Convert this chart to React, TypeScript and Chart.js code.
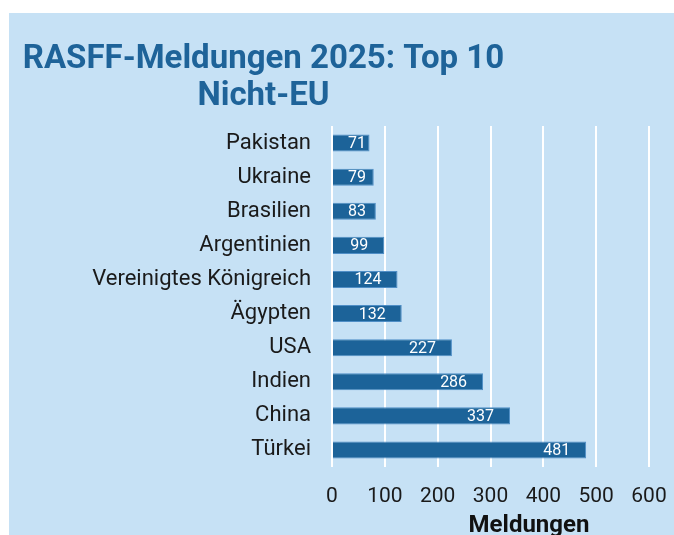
import React, { useEffect, useRef } from "react";
import { Chart, registerables } from "chart.js";

Chart.register(...registerables);

const categories = [
  "Pakistan",
  "Ukraine",
  "Brasilien",
  "Argentinien",
  "Vereinigtes Königreich",
  "Ägypten",
  "USA",
  "Indien",
  "China",
  "Türkei",
];
const values = [71, 79, 83, 99, 124, 132, 227, 286, 337, 481];
const titleLines = ["RASFF-Meldungen 2025: Top 10", "Nicht-EU"];
const xAxisTitle = "Meldungen";
const xMin = 0;
const xMax = 600;
const xStep = 100;

const BG = "#c6e1f5";
const BAR = "#1c6399";
const BAR_BORDER = "#4f8ec6";
const TITLE = "#1e6399";
const TEXT = "#1a1a1a";
const FONT = "Roboto, 'Noto Sans', sans-serif";

const W = 665;
const H = 522;

export default function App() {
  const ref = useRef<HTMLCanvasElement | null>(null);
  useEffect(() => {
    if (!ref.current) return;
    const overlay = {
      id: "overlay",
      afterDatasetsDraw(chart: any) {
        const ctx = chart.ctx;
        const meta = chart.getDatasetMeta(0);
        ctx.save();
        ctx.font = `16px ${FONT}`;
        ctx.fillStyle = "#ffffff";
        ctx.textBaseline = "middle";
        ctx.textAlign = "left";
        meta.data.forEach((bar: any, i: number) => {
          const txt = String(values[i]);
          const w = ctx.measureText(txt).width;
          const base = bar.base;
          let left = bar.x - 16 - w;
          if (left < base + 15) left = base + 15;
          ctx.fillText(txt, left, bar.y + 1);
        });
        ctx.restore();
      },
      afterDraw(chart: any) {
        const ctx = chart.ctx;
        ctx.save();
        ctx.font = `bold 33px ${FONT}`;
        ctx.fillStyle = TITLE;
        ctx.textAlign = "center";
        ctx.textBaseline = "alphabetic";
        ctx.fillText(titleLines[0], 254.5, 54.7);
        ctx.fillText(titleLines[1], 254.5, 92);
        ctx.font = `bold 24px ${FONT}`;
        ctx.fillStyle = "#111111";
        ctx.fillText(xAxisTitle, 520, 519);
        ctx.restore();
      },
    };
    const chart = new Chart(ref.current, {
      type: "bar",
      data: {
        labels: categories,
        datasets: [
          {
            data: values,
            backgroundColor: BAR,
            borderColor: BAR_BORDER,
            borderWidth: 1,
            barPercentage: 0.5,
            categoryPercentage: 1,
          },
        ],
      },
      options: {
        indexAxis: "y",
        animation: false,
        responsive: false,
        layout: { padding: { top: 113, right: 25, bottom: 0, left: 0 } },
        plugins: {
          legend: { display: false },
          title: { display: false },
          tooltip: { enabled: false },
        },
        scales: {
          x: {
            min: xMin,
            max: xMax,
            ticks: {
              stepSize: xStep,
              color: TEXT,
              font: { family: FONT, size: 21 },
              padding: 17,
              maxRotation: 0,
            },
            grid: { color: "#ffffff", lineWidth: 2, drawTicks: false },
            border: { display: false },
            afterFit(scale: any) {
              scale.height = 68;
              scale.paddingLeft = 0;
              scale.paddingRight = 0;
            },
          },
          y: {
            ticks: {
              color: TEXT,
              font: { family: FONT, size: 22 },
              padding: 21,
              autoSkip: false,
            },
            grid: { display: false, drawTicks: false },
            border: { display: false },
            afterFit(scale: any) {
              scale.width = 323;
              scale.paddingTop = 0;
              scale.paddingBottom = 0;
            },
          },
        },
      },
      plugins: [overlay],
    } as any);
    return () => chart.destroy();
  }, []);
  return (
    <div
      style={{
        position: "fixed",
        left: 9,
        top: 13,
        width: W,
        height: H,
        background: BG,
      }}
    >
      <canvas ref={ref} width={W} height={H} style={{ width: W, height: H, display: "block" }} />
    </div>
  );
}
